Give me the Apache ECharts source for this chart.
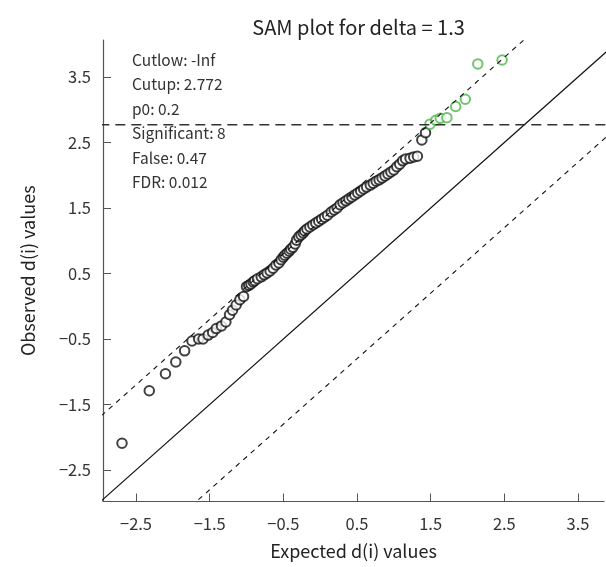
<!DOCTYPE html>
<html>
<head>
<meta charset="utf-8">
<script src="https://cdn.jsdelivr.net/npm/echarts@6/dist/echarts.min.js"></script>
<style>
html,body{margin:0;padding:0;background:#fff;}
#chart{width:606px;height:567px;}
</style>
</head>
<body>
<div id="chart"></div>
<script>
// ---- data ----
const titleText = 'SAM plot for delta = 1.3';
const xAxisName = 'Expected d(i) values';
const yAxisName = 'Observed d(i) values';
const xTicks = [-2.5, -1.5, -0.5, 0.5, 1.5, 2.5, 3.5];
const yTicks = [-2.5, -1.5, -0.5, 0.5, 1.5, 2.5, 3.5];
const xRange = [-2.948, 3.853];
const yRange = [-2.98, 4.065];
const delta = 1.3;
const cutup = 2.772;
const annotationLines = ['Cutlow: -Inf', 'Cutup: 2.772', 'p0: 0.2', 'Significant: 8', 'False: 0.47', 'FDR: 0.012'];

const expectedNS = [-2.69,-2.32,-2.10,-1.96,-1.84,-1.74,-1.65,-1.59,-1.52,-1.46,-1.41,-1.34,-1.28,-1.23,-1.19,-1.14,-1.09,-1.04,-1.00,
  -0.97,-0.94,-0.91,-0.89,-0.85,-0.80,-0.76,-0.72,-0.68,-0.64,-0.60,-0.56,-0.53,-0.50,-0.48,-0.45,-0.42,-0.40,-0.37,-0.34,
  -0.32,-0.29,-0.26,-0.23,-0.21,-0.18,-0.14,-0.10,-0.06,-0.02,0.02,0.06,0.10,0.15,0.19,0.23,0.27,0.31,0.35,0.39,
  0.43,0.47,0.51,0.55,0.59,0.63,0.68,0.72,0.76,0.80,0.84,0.88,0.92,0.96,1.00,1.04,1.08,1.12,1.16,1.22,1.27,1.32,1.38,1.43];
const observedNS = [-2.09,-1.29,-1.03,-0.85,-0.68,-0.53,-0.50,-0.50,-0.44,-0.40,-0.34,-0.30,-0.24,-0.13,-0.06,0.02,0.10,0.15,0.30,
  0.32,0.34,0.37,0.39,0.42,0.45,0.48,0.51,0.54,0.58,0.63,0.66,0.71,0.75,0.78,0.81,0.84,0.87,0.90,0.95,
  1.01,1.06,1.09,1.12,1.15,1.18,1.21,1.24,1.27,1.30,1.33,1.36,1.39,1.44,1.47,1.50,1.55,1.58,1.61,1.64,
  1.67,1.70,1.73,1.76,1.79,1.82,1.85,1.88,1.91,1.93,1.96,1.99,2.02,2.05,2.08,2.13,2.17,2.22,2.25,2.26,2.28,2.29,2.54,2.65];
const expectedSig = [1.49,1.57,1.63,1.72,1.84,1.97,2.14,2.47];
const observedSig = [2.78,2.84,2.87,2.88,3.05,3.16,3.70,3.76];

// ---- build ----
const FONT = '"Noto Sans CJK KR", "Noto Sans", sans-serif';
const zip = (a, b) => a.map((v, i) => [v, b[i]]);
const lineEnds = [-5, 6];
const diag = off => lineEnds.map(x => [x, x + off]);
const fmt = v => (v < 0 ? '\u2212' + Math.abs(v) : String(v));

const chart = echarts.init(document.getElementById('chart'), null, {renderer: 'canvas'});
chart.setOption({
  animation: false,
  backgroundColor: '#fff',
  title: {
    text: titleText, left: 353.5, top: 12, textAlign: 'center',
    textStyle: {fontFamily: FONT, fontSize: 20, fontWeight: 'normal', color: '#222'}
  },
  grid: {left: 103, right: 2, top: 40, bottom: 65.5, containLabel: false},
  xAxis: {
    type: 'value', min: xRange[0], max: xRange[1],
    name: xAxisName, nameLocation: 'middle', nameGap: 41,
    nameTextStyle: {fontFamily: FONT, fontSize: 18, color: '#222'},
    axisLine: {show: true, onZero: false, lineStyle: {color: '#555', width: 1.2}},
    axisTick: {show: true, inside: true, length: 8, customValues: xTicks, lineStyle: {color: '#555'}},
    axisLabel: {customValues: xTicks, formatter: fmt, margin: 14, fontFamily: FONT, fontSize: 16.5, color: '#333'},
    splitLine: {show: false}
  },
  yAxis: {
    type: 'value', min: yRange[0], max: yRange[1],
    name: yAxisName, nameLocation: 'middle', nameGap: 66, nameRotate: 90,
    nameTextStyle: {fontFamily: FONT, fontSize: 18, color: '#222'},
    axisLine: {show: true, onZero: false, lineStyle: {color: '#555', width: 1.2}},
    axisTick: {show: true, inside: true, length: 8, customValues: yTicks, lineStyle: {color: '#555'}},
    axisLabel: {customValues: yTicks, formatter: fmt, margin: 12, fontFamily: FONT, fontSize: 16.5, color: '#333'},
    splitLine: {show: false}
  },
  graphic: [{
    type: 'text', left: 132, top: 48,
    style: {
      text: annotationLines.join('\n'), fontFamily: FONT, fontSize: 15.5, lineHeight: 24.4, fill: '#333'
    }
  }],
  series: [
    {type: 'line', data: diag(0), showSymbol: false, clip: true, silent: true,
      lineStyle: {color: '#111', width: 1.2, type: 'solid'}},
    {type: 'line', data: diag(delta), showSymbol: false, clip: true, silent: true,
      lineStyle: {color: '#111', width: 1.1, type: [5, 5]}},
    {type: 'line', data: diag(-delta), showSymbol: false, clip: true, silent: true,
      lineStyle: {color: '#111', width: 1.1, type: [5, 5]}},
    {type: 'line', data: [[xRange[0] - 0.05, cutup], [xRange[1] + 0.1, cutup]], showSymbol: false, clip: false, silent: true,
      lineStyle: {color: '#333', width: 1.5, type: [10, 6]}},
    {type: 'scatter', data: zip(expectedNS, observedNS), symbol: 'emptyCircle', symbolSize: 9.5,
      itemStyle: {color: '#111', borderColor: '#111', borderWidth: 1}},
    {type: 'scatter', data: zip(expectedSig, observedSig), symbol: 'emptyCircle', symbolSize: 9.5,
      itemStyle: {color: '#4cb548', borderColor: '#4cb548', borderWidth: 1}}
  ]
});
</script>
</body>
</html>
